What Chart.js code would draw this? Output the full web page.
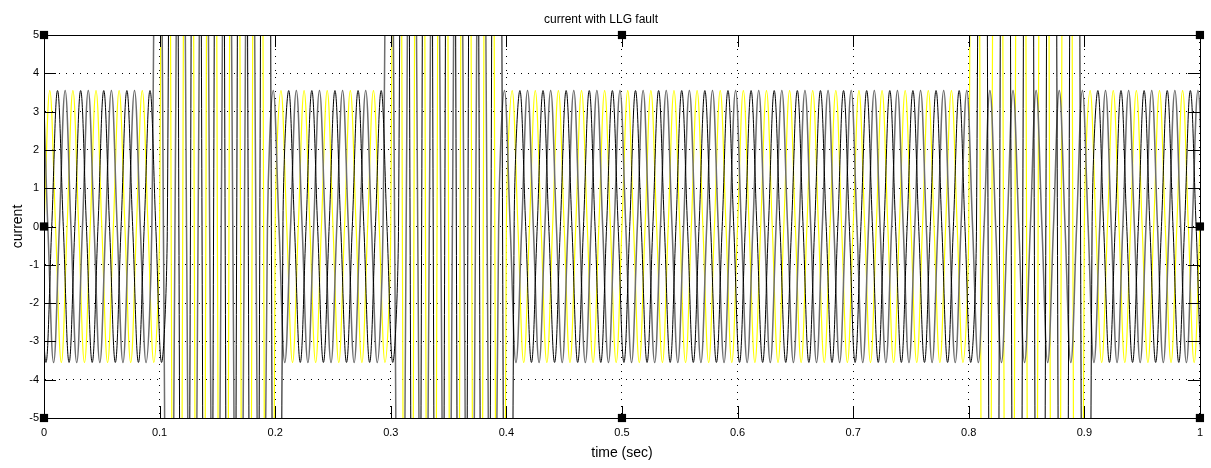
<!DOCTYPE html>
<html>
<head>
<meta charset="utf-8">
<script src="https://cdn.jsdelivr.net/npm/chart.js@4.4.1/dist/chart.umd.min.js"></script>
<style>
  html, body { margin: 0; padding: 0; background: #fff; }
</style>
</head>
<body>
<canvas id="chart" width="1211" height="468"></canvas>
<script>
// Axis ticks
const timeTicks = [0, 0.1, 0.2, 0.3, 0.4, 0.5, 0.6, 0.7, 0.8, 0.9, 1];
const currentTicks = [-5, -4, -3, -2, -1, 0, 1, 2, 3, 4, 5];

// 50 Hz supply, so one cycle lasts 0.02 s
const supplyFreq = 50;

// Time of the first rising zero crossing of each phase (sec)
const yellowStart = 0;
const blackStart = 0.0067;
const grayStart = -0.0067;

// Peak current of every cycle, one row = 0.1 s (five cycles)
// faults at 0.1-0.2, 0.3-0.4 and 0.8-0.9 push the current far off the axis
const yellowPeaks = [
  3.55, 3.55, 3.55, 3.55, 3.55,
  40, 40, 40, 40, 40,
  3.55, 3.55, 3.55, 3.55, 3.55,
  40, 40, 40, 40, 40,
  3.55, 3.55, 3.55, 3.55, 3.55,
  3.55, 3.55, 3.55, 3.55, 3.55,
  3.55, 3.55, 3.55, 3.55, 3.55,
  3.55, 3.55, 3.55, 3.55, 3.55,
  40, 40, 40, 40, 40,
  3.55, 3.55, 3.55, 3.55, 3.55
];
const blackPeaks = [
  3.55, 3.55, 3.55, 3.55, 3.55,
  40, 40, 40, 40, 40,
  3.55, 3.55, 3.55, 3.55, 3.55,
  40, 40, 40, 40, 40,
  3.55, 3.55, 3.55, 3.55, 3.55,
  3.55, 3.55, 3.55, 3.55, 3.55,
  3.55, 3.55, 3.55, 3.55, 3.55,
  3.55, 3.55, 3.55, 3.55, 3.55,
  40, 40, 40, 40, 40,
  3.55, 3.55, 3.55, 3.55, 3.55
];
const grayPeaks = [
  3.55, 3.55, 3.55, 3.55, 3.55,
  20, 20, 20, 20, 20,
  3.55, 3.55, 3.55, 3.55, 3.55,
  20, 20, 20, 20, 20,
  3.55, 3.55, 3.55, 3.55, 3.55,
  3.55, 3.55, 3.55, 3.55, 3.55,
  3.55, 3.55, 3.55, 3.55, 3.55,
  3.55, 3.55, 3.55, 3.55, 3.55,
  3.55, 3.55, 3.55, 3.55, 3.55,
  3.55, 3.55, 3.55, 3.55, 3.55
];

// Figure selection handles (MATLAB edit mode)
const handleTimes = [0, 0.5, 1, 0, 1, 0, 0.5, 1];
const handleCurrents = [5, 5, 5, 0, 0, -5, -5, -5];

// zero crossings and peaks of each cycle, smoothed by the line tension
function wavePoints(start, peaks) {
  const T = 1 / supplyFreq;
  const pts = [];
  for (let k = -1; k <= peaks.length; k++) {
    const a = peaks[Math.min(peaks.length - 1, Math.max(0, k))];
    const t0 = start + k * T;
    pts.push({x: t0, y: 0}, {x: t0 + T / 4, y: a}, {x: t0 + T / 2, y: 0}, {x: t0 + 3 * T / 4, y: -a});
  }
  return pts;
}

const FONT = "'Liberation Sans', Arial, sans-serif";
Chart.defaults.font.family = FONT;
Chart.defaults.color = '#000';

// frame and inward tick marks, drawn under the handles
const framePlugin = {
  id: 'frame',
  beforeDatasetDraw(chart, args) {
    if (args.index !== 0) return;
    const {ctx, chartArea: a, scales} = chart;
    ctx.save();
    ctx.strokeStyle = '#000';
    ctx.lineWidth = 1;
    ctx.beginPath();
    scales.y.ticks.forEach(t => {
      const y = Math.round(scales.y.getPixelForValue(t.value)) + 0.5;
      ctx.moveTo(a.left, y); ctx.lineTo(a.left + 12, y);
      ctx.moveTo(a.right, y); ctx.lineTo(a.right - 12, y);
    });
    scales.x.ticks.forEach(t => {
      const x = Math.round(scales.x.getPixelForValue(t.value)) + 0.5;
      ctx.moveTo(x, a.bottom); ctx.lineTo(x, a.bottom - 12);
      ctx.moveTo(x, a.top); ctx.lineTo(x, a.top + 12);
    });
    ctx.stroke();
    ctx.strokeRect(Math.round(a.left) + 0.5, Math.round(a.top) + 0.5,
      Math.round(a.right - a.left), Math.round(a.bottom - a.top));
    ctx.restore();
  }
};

new Chart(document.getElementById('chart'), {
  type: 'line',
  data: {
    datasets: [
      {
        type: 'scatter',
        data: handleTimes.map((t, i) => ({x: t, y: handleCurrents[i]})),
        pointStyle: 'rect',
        pointRadius: 5.8,
        backgroundColor: '#000',
        borderColor: '#000',
        borderWidth: 0,
        showLine: false,
        clip: false,
        order: 0
      },
      {
        data: wavePoints(blackStart, blackPeaks),
        borderColor: '#000',
        borderWidth: 1,
        pointRadius: 0,
        tension: 0.4,
        order: 1
      },
      {
        data: wavePoints(grayStart, grayPeaks),
        borderColor: '#6e6e6e',
        borderWidth: 1.5,
        pointRadius: 0,
        tension: 0.4,
        order: 2
      },
      {
        data: wavePoints(yellowStart, yellowPeaks),
        borderColor: '#ffff00',
        borderWidth: 1.2,
        pointRadius: 0,
        tension: 0.4,
        order: 3
      }
    ]
  },
  options: {
    responsive: false,
    animation: false,
    devicePixelRatio: 1,
    events: [],
    layout: { padding: { left: 0, right: 9, top: 0, bottom: 0 } },
    elements: { line: { capBezierPoints: false } },
    plugins: {
      legend: { display: false },
      tooltip: { enabled: false },
      title: {
        display: true,
        text: 'current with LLG fault',
        color: '#000',
        font: { size: 12, weight: 'normal' },
        padding: { top: 12, bottom: 8.6 }
      }
    },
    scales: {
      x: {
        type: 'linear',
        min: timeTicks[0],
        max: timeTicks[timeTicks.length - 1],
        afterBuildTicks: s => { s.ticks = timeTicks.map(v => ({value: v})); },
        afterFit: s => { s.height = 50; },
        ticks: {
          autoSkip: false,
          maxRotation: 0,
          padding: 8,
          color: '#000',
          font: { size: 11 },
          callback: v => String(+v.toFixed(1))
        },
        grid: { color: '#000', lineWidth: 1, drawTicks: false },
        border: { display: true, color: '#000', dash: [1, 6] },
        title: {
          display: true,
          text: 'time (sec)',
          color: '#000',
          font: { size: 14 },
          padding: { top: 0, bottom: 6.6 }
        }
      },
      y: {
        type: 'linear',
        min: currentTicks[0],
        max: currentTicks[currentTicks.length - 1],
        afterBuildTicks: s => { s.ticks = currentTicks.map(v => ({value: v})); },
        afterFit: s => { s.width = 44; },
        ticks: {
          padding: 5,
          color: '#000',
          font: { size: 11 },
          callback: v => String(v)
        },
        grid: { color: '#000', lineWidth: 1, drawTicks: false },
        border: { display: true, color: '#000', dash: [1, 6] },
        title: {
          display: true,
          text: 'current',
          color: '#000',
          font: { size: 14 },
          padding: { top: 9.6, bottom: 0 }
        }
      }
    }
  },
  plugins: [framePlugin]
});
</script>
</body>
</html>
